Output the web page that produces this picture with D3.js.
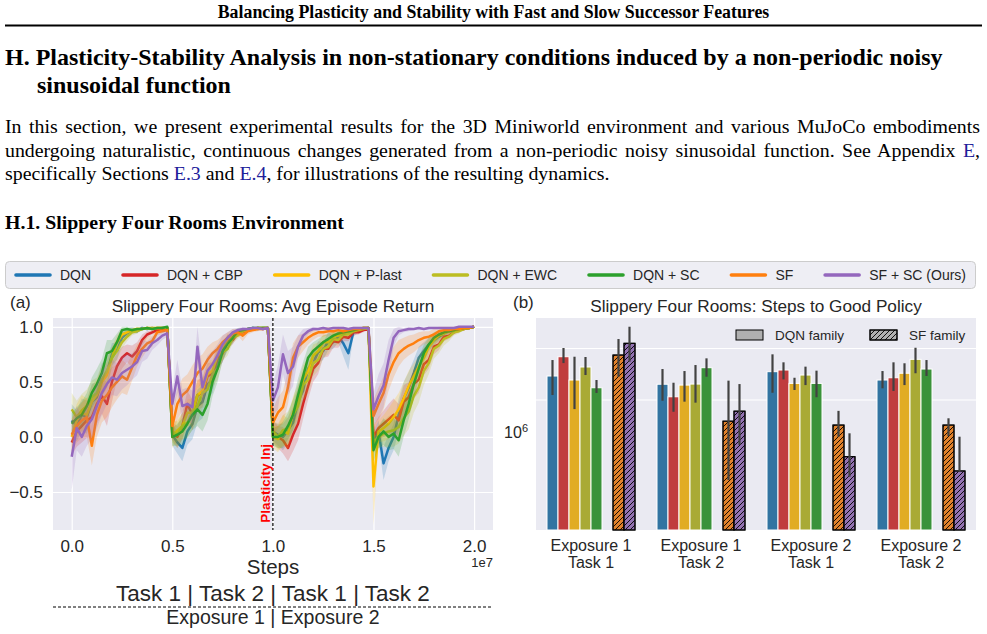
<!DOCTYPE html>
<html>
<head>
<meta charset="utf-8">
<script src="https://cdn.jsdelivr.net/npm/d3@7"></script>
<style>
  body { margin: 0; background: #fff; }
  svg { display: block; }
</style>
</head>
<body>
<div></div>
<script>
const serif = '"Liberation Serif", "Times New Roman", serif';
const sans = '"Liberation Sans", Arial, Helvetica, sans-serif';
const ink = "#262626";

// ---- data: (a) average episode return, x in units of 1e7 steps ----
const methods = ["DQN", "DQN + CBP", "DQN + P-last", "DQN + EWC", "DQN + SC", "SF", "SF + SC (Ours)"];
const steps = [0, 0.025, 0.05, 0.075, 0.1, 0.125, 0.15, 0.175, 0.2, 0.225, 0.25, 0.275, 0.3, 0.325, 0.35, 0.375, 0.4, 0.425, 0.45, 0.475,
  0.5, 0.525, 0.55, 0.575, 0.6, 0.625, 0.65, 0.675, 0.7, 0.725, 0.75, 0.775, 0.8, 0.825, 0.85, 0.875, 0.9, 0.925, 0.95, 0.975,
  1.0, 1.025, 1.05, 1.075, 1.1, 1.125, 1.15, 1.175, 1.2, 1.225, 1.25, 1.275, 1.3, 1.325, 1.35, 1.375, 1.4, 1.425, 1.45, 1.475,
  1.5, 1.525, 1.55, 1.575, 1.6, 1.625, 1.65, 1.675, 1.7, 1.725, 1.75, 1.775, 1.8, 1.825, 1.85, 1.875, 1.9, 1.925, 1.95, 1.975, 2.0];

const retDQN = [0.15, 0.1, 0.2, 0.18, 0.32, 0.36, 0.52, 0.58, 0.75, 0.78, 0.9, 0.94, 0.97, 0.96, 0.99, 0.98, 0.99, 0.98, 0.99, 0.99,
  0.02, -0.05, -0.1, 0.05, 0.12, 0.28, 0.32, 0.48, 0.52, 0.7, 0.76, 0.86, 0.9, 0.95, 0.96, 0.98, 0.99, 0.98, 0.99, 0.99,
  0.05, 0.02, 0.0, 0.06, 0.13, 0.32, 0.42, 0.62, 0.67, 0.77, 0.78, 0.87, 0.86, 0.91, 0.85, 0.76, 0.95, 0.97, 0.98, 0.99,
  -0.05, 0.05, -0.24, -0.1, 0.0, 0.2, 0.35, 0.45, 0.58, 0.72, 0.78, 0.84, 0.88, 0.91, 0.94, 0.96, 0.97, 0.98, 0.99, 0.99, 1.0];
const bandDQN = [0.15, 0.14, 0.15, 0.15, 0.16, 0.14, 0.15, 0.13, 0.1, 0.08, 0.06, 0.04, 0.03, 0.02, 0.01, 0.01, 0.01, 0.01, 0.01, 0.01,
  0.1, 0.1, 0.12, 0.12, 0.14, 0.15, 0.15, 0.14, 0.12, 0.1, 0.08, 0.06, 0.04, 0.03, 0.02, 0.01, 0.01, 0.01, 0.01, 0.01,
  0.08, 0.1, 0.12, 0.12, 0.14, 0.15, 0.15, 0.12, 0.1, 0.1, 0.08, 0.08, 0.06, 0.05, 0.12, 0.15, 0.04, 0.02, 0.01, 0.01,
  0.1, 0.1, 0.15, 0.12, 0.12, 0.15, 0.15, 0.14, 0.12, 0.1, 0.08, 0.06, 0.05, 0.04, 0.03, 0.02, 0.02, 0.01, 0.01, 0.01, 0.01];

const retCBP = [-0.05, 0.05, 0.1, 0.15, 0.18, 0.3, 0.37, 0.3, 0.5, 0.64, 0.72, 0.76, 0.73, 0.78, 0.88, 0.93, 0.95, 0.97, 0.98, 0.99,
  0.05, 0.0, 0.1, 0.3, 0.2, 0.38, 0.4, 0.55, 0.58, 0.72, 0.76, 0.87, 0.88, 0.94, 0.95, 0.97, 0.98, 0.99, 0.98, 0.99,
  0.05, 0.0, -0.03, -0.1, 0.02, 0.12, 0.3, 0.46, 0.62, 0.67, 0.8, 0.8, 0.87, 0.86, 0.91, 0.9, 0.95, 0.95, 0.97, 0.98,
  0.0, 0.08, 0.12, 0.16, 0.2, 0.15, 0.32, 0.36, 0.48, 0.52, 0.66, 0.7, 0.82, 0.84, 0.91, 0.92, 0.95, 0.97, 0.98, 0.99, 1.0];
const bandCBP = [0.12, 0.14, 0.15, 0.16, 0.18, 0.18, 0.16, 0.2, 0.18, 0.12, 0.1, 0.08, 0.1, 0.08, 0.05, 0.03, 0.02, 0.02, 0.01, 0.01,
  0.08, 0.1, 0.12, 0.12, 0.14, 0.14, 0.13, 0.12, 0.1, 0.1, 0.08, 0.06, 0.04, 0.03, 0.02, 0.02, 0.01, 0.01, 0.01, 0.01,
  0.1, 0.1, 0.12, 0.12, 0.15, 0.15, 0.14, 0.12, 0.12, 0.1, 0.08, 0.07, 0.06, 0.05, 0.04, 0.03, 0.03, 0.02, 0.02, 0.01,
  0.1, 0.1, 0.12, 0.14, 0.15, 0.15, 0.15, 0.14, 0.13, 0.12, 0.1, 0.08, 0.07, 0.05, 0.04, 0.03, 0.02, 0.02, 0.01, 0.01, 0.01];

const retPlast = [0.0, 0.15, 0.22, 0.2, 0.32, 0.38, 0.5, 0.56, 0.72, 0.86, 0.93, 0.95, 0.97, 0.98, 0.98, 0.99, 0.99, 0.99, 0.99, 0.99,
  0.0, 0.06, 0.1, 0.22, 0.22, 0.38, 0.42, 0.57, 0.6, 0.74, 0.78, 0.89, 0.9, 0.95, 0.96, 0.98, 0.98, 0.99, 0.99, 0.99,
  0.0, -0.02, 0.06, 0.03, 0.22, 0.33, 0.52, 0.6, 0.74, 0.78, 0.86, 0.86, 0.91, 0.92, 0.95, 0.95, 0.97, 0.98, 0.99, 0.99,
  -0.45, 0.05, 0.08, 0.12, 0.18, 0.25, 0.35, 0.46, 0.55, 0.64, 0.72, 0.82, 0.88, 0.92, 0.94, 0.96, 0.97, 0.98, 0.99, 0.99, 1.0];
const bandPlast = [0.15, 0.15, 0.16, 0.15, 0.15, 0.14, 0.13, 0.12, 0.1, 0.06, 0.05, 0.03, 0.02, 0.02, 0.01, 0.01, 0.01, 0.01, 0.01, 0.01,
  0.1, 0.1, 0.12, 0.12, 0.13, 0.13, 0.12, 0.12, 0.1, 0.09, 0.08, 0.05, 0.04, 0.03, 0.02, 0.01, 0.01, 0.01, 0.01, 0.01,
  0.1, 0.12, 0.14, 0.14, 0.15, 0.15, 0.13, 0.12, 0.1, 0.08, 0.07, 0.06, 0.05, 0.04, 0.03, 0.02, 0.02, 0.01, 0.01, 0.01,
  0.35, 0.1, 0.12, 0.14, 0.15, 0.15, 0.15, 0.14, 0.12, 0.1, 0.09, 0.07, 0.05, 0.04, 0.03, 0.02, 0.02, 0.01, 0.01, 0.01, 0.01];

const retEWC = [0.25, 0.18, 0.24, 0.28, 0.36, 0.4, 0.52, 0.6, 0.72, 0.78, 0.86, 0.91, 0.95, 0.96, 0.98, 0.99, 0.98, 0.99, 0.99, 0.99,
  0.05, 0.02, 0.1, 0.13, 0.22, 0.28, 0.4, 0.43, 0.57, 0.62, 0.77, 0.8, 0.9, 0.92, 0.96, 0.97, 0.98, 0.99, 0.99, 0.99,
  0.05, 0.0, 0.06, 0.08, 0.2, 0.28, 0.47, 0.52, 0.67, 0.7, 0.8, 0.82, 0.89, 0.88, 0.93, 0.93, 0.96, 0.97, 0.98, 0.99,
  -0.05, 0.0, 0.03, 0.05, 0.06, 0.09, 0.17, 0.23, 0.37, 0.45, 0.6, 0.67, 0.8, 0.83, 0.89, 0.91, 0.95, 0.96, 0.98, 0.99, 1.0];
const bandEWC = [0.15, 0.15, 0.15, 0.15, 0.15, 0.14, 0.14, 0.12, 0.1, 0.08, 0.06, 0.04, 0.03, 0.02, 0.01, 0.01, 0.01, 0.01, 0.01, 0.01,
  0.1, 0.12, 0.12, 0.14, 0.15, 0.15, 0.14, 0.14, 0.12, 0.1, 0.08, 0.06, 0.05, 0.03, 0.02, 0.02, 0.01, 0.01, 0.01, 0.01,
  0.1, 0.12, 0.14, 0.15, 0.15, 0.15, 0.14, 0.13, 0.12, 0.1, 0.08, 0.07, 0.06, 0.05, 0.04, 0.03, 0.02, 0.02, 0.01, 0.01,
  0.1, 0.1, 0.12, 0.14, 0.15, 0.15, 0.16, 0.16, 0.15, 0.14, 0.13, 0.1, 0.09, 0.07, 0.06, 0.04, 0.03, 0.02, 0.01, 0.01, 0.01];

const retSC = [0.12, 0.17, 0.2, 0.28, 0.4, 0.48, 0.58, 0.76, 0.78, 0.86, 0.97, 0.98, 0.97, 0.98, 0.98, 0.99, 0.98, 0.99, 0.99, 1.0,
  0.0, 0.02, 0.05, 0.12, 0.2, 0.25, 0.2, 0.3, 0.5, 0.62, 0.78, 0.85, 0.9, 0.96, 0.97, 0.98, 0.99, 0.99, 0.99, 0.99,
  0.0, 0.0, 0.02, 0.1, 0.2, 0.38, 0.55, 0.72, 0.78, 0.82, 0.86, 0.89, 0.92, 0.94, 0.95, 0.96, 0.97, 0.98, 0.99, 0.99,
  -0.12, 0.0, 0.05, 0.0, 0.03, -0.03, 0.15, 0.3, 0.48, 0.62, 0.76, 0.84, 0.9, 0.93, 0.95, 0.96, 0.97, 0.98, 0.99, 0.99, 1.0];
const bandSC = [0.1, 0.1, 0.12, 0.12, 0.14, 0.14, 0.13, 0.12, 0.1, 0.08, 0.03, 0.02, 0.02, 0.01, 0.01, 0.01, 0.01, 0.01, 0.01, 0.01,
  0.08, 0.1, 0.12, 0.12, 0.14, 0.15, 0.15, 0.15, 0.13, 0.12, 0.09, 0.07, 0.05, 0.03, 0.02, 0.01, 0.01, 0.01, 0.01, 0.01,
  0.08, 0.1, 0.12, 0.12, 0.14, 0.15, 0.13, 0.1, 0.08, 0.07, 0.06, 0.05, 0.04, 0.03, 0.03, 0.02, 0.02, 0.01, 0.01, 0.01,
  0.1, 0.1, 0.12, 0.12, 0.14, 0.15, 0.15, 0.14, 0.13, 0.1, 0.08, 0.06, 0.05, 0.04, 0.03, 0.02, 0.02, 0.01, 0.01, 0.01, 0.01];

const retSF = [0.02, 0.1, 0.15, 0.18, -0.08, 0.2, 0.33, 0.38, 0.45, 0.5, 0.55, 0.52, 0.63, 0.74, 0.8, 0.85, 0.87, 0.95, 0.96, 0.97,
  0.1, 0.3, 0.38, 0.42, 0.5, 0.58, 0.62, 0.7, 0.76, 0.8, 0.86, 0.9, 0.94, 0.95, 0.92, 0.96, 0.97, 0.98, 0.98, 0.99,
  0.13, 0.22, 0.27, 0.45, 0.72, 0.82, 0.86, 0.9, 0.93, 0.95, 0.95, 0.96, 0.96, 0.97, 0.96, 0.97, 0.98, 0.98, 0.99, 0.99,
  0.19, 0.3, 0.4, 0.57, 0.68, 0.76, 0.8, 0.83, 0.85, 0.88, 0.9, 0.91, 0.93, 0.96, 0.97, 0.97, 0.98, 0.98, 0.99, 0.99, 1.0];
const bandSF = [0.15, 0.15, 0.16, 0.18, 0.18, 0.2, 0.2, 0.2, 0.18, 0.16, 0.15, 0.14, 0.12, 0.1, 0.08, 0.06, 0.05, 0.03, 0.02, 0.02,
  0.12, 0.14, 0.15, 0.15, 0.15, 0.14, 0.13, 0.12, 0.1, 0.08, 0.06, 0.05, 0.04, 0.03, 0.05, 0.03, 0.02, 0.02, 0.01, 0.01,
  0.12, 0.14, 0.15, 0.15, 0.13, 0.1, 0.08, 0.06, 0.05, 0.04, 0.04, 0.04, 0.03, 0.03, 0.03, 0.02, 0.02, 0.02, 0.01, 0.01,
  0.15, 0.15, 0.15, 0.15, 0.14, 0.12, 0.1, 0.09, 0.08, 0.07, 0.06, 0.05, 0.05, 0.04, 0.03, 0.03, 0.02, 0.02, 0.01, 0.01, 0.01];

const retSFSC = [-0.18, 0.08, 0.0, 0.1, 0.16, 0.28, 0.4, 0.48, 0.54, 0.52, 0.58, 0.61, 0.64, 0.68, 0.78, 0.79, 0.85, 0.88, 0.92, 0.94,
  0.3, 0.55, 0.28, 0.3, 0.27, 0.82, 0.45, 0.6, 0.66, 0.74, 0.84, 0.9, 0.95, 0.97, 0.98, 0.98, 0.99, 0.99, 0.98, 0.99,
  0.33, 0.45, 0.75, 0.58, 0.64, 0.82, 0.92, 0.96, 0.98, 0.98, 0.99, 0.98, 0.99, 0.99, 0.99, 0.98, 0.99, 0.99, 0.99, 0.99,
  0.25, 0.37, 0.47, 0.7, 0.9, 0.96, 0.97, 0.98, 0.98, 0.99, 0.98, 0.99, 0.99, 0.99, 0.99, 0.99, 0.99, 1.0, 1.0, 1.0, 1.0];
const bandSFSC = [0.3, 0.2, 0.18, 0.18, 0.18, 0.2, 0.2, 0.18, 0.16, 0.15, 0.15, 0.14, 0.12, 0.12, 0.1, 0.08, 0.06, 0.05, 0.04, 0.03,
  0.12, 0.15, 0.15, 0.15, 0.15, 0.18, 0.16, 0.14, 0.12, 0.1, 0.08, 0.05, 0.03, 0.02, 0.02, 0.01, 0.01, 0.01, 0.01, 0.01,
  0.15, 0.2, 0.18, 0.2, 0.18, 0.1, 0.06, 0.03, 0.02, 0.01, 0.01, 0.01, 0.01, 0.01, 0.01, 0.01, 0.01, 0.01, 0.01, 0.01,
  0.15, 0.2, 0.2, 0.18, 0.08, 0.04, 0.02, 0.02, 0.01, 0.01, 0.01, 0.01, 0.01, 0.01, 0.01, 0.01, 0.01, 0.01, 0.01, 0.01, 0.01];

const xTicksA = [0, 0.5, 1.0, 1.5, 2.0];
const yTicksA = [-0.5, 0, 0.5, 1.0];

// ---- data: (b) steps to good policy ----
const barGroups = ["Exposure 1\nTask 1", "Exposure 1\nTask 2", "Exposure 2\nTask 1", "Exposure 2\nTask 2"];
const stepsDQN = [3.30e6, 2.77e6, 3.62e6, 3.03e6];
const loDQN = [2.20e6, 1.95e6, 2.31e6, 2.54e6];
const hiDQN = [4.64e6, 3.83e6, 5.24e6, 3.67e6];
const stepsCBP = [4.98e6, 2.12e6, 3.75e6, 3.18e6];
const loCBP = [4.35e6, 1.54e6, 3.07e6, 2.40e6];
const hiCBP = [6.0e6, 2.86e6, 4.42e6, 4.42e6];
const stepsPlast = [3.03e6, 2.72e6, 2.82e6, 3.50e6];
const loPlast = [1.63e6, 1.91e6, 2.45e6, 2.72e6];
const hiPlast = [4.98e6, 3.67e6, 3.18e6, 4.33e6];
const stepsEWC = [4.0e6, 2.78e6, 3.37e6, 4.71e6];
const loEWC = [3.37e6, 1.87e6, 2.72e6, 3.50e6];
const hiEWC = [4.95e6, 4.17e6, 4.03e6, 6.03e6];
const stepsSC = [2.57e6, 3.94e6, 2.82e6, 3.83e6];
const loSC = [2.30e6, 3.25e6, 2.10e6, 3.30e6];
const hiSC = [3.03e6, 4.81e6, 3.70e6, 4.64e6];
const stepsSF = [5.16e6, 1.26e6, 1.16e6, 1.16e6];
const loSF = [3.25e6, 3.59e5, 9.05e5, 9.18e5];
const hiSF = [7.26e6, 2.99e6, 1.57e6, 1.34e6];
const stepsSFSC = [6.63e6, 1.56e6, 5.91e5, 4.36e5];
const loSFSC = [4.48e6, 7.58e5, 3.86e5, 4.26e5];
const hiSFSC = [9.44e6, 2.78e6, 9.73e5, 9.05e5];
const barGrid = [2e6, 6e6];

const lineColors = ["#1f77b4", "#d62728", "#ffbf00", "#bcbd22", "#2ca02c", "#ff7f0e", "#9467bd"];
const barColors = ["#3274a1", "#c03d3e", "#e1ac24", "#a9aa35", "#3a923a", "#e1812c", "#9372b2"];

const lineSeries = [
  [retDQN, bandDQN], [retCBP, bandCBP], [retPlast, bandPlast], [retEWC, bandEWC],
  [retSC, bandSC], [retSF, bandSF], [retSFSC, bandSFSC]
].map(([m, b], i) => ({
  name: methods[i], color: lineColors[i],
  pts: steps.map((t, j) => ({ t: t, v: m[j], lo: m[j] - b[j], hi: m[j] + b[j] }))
}));
const barSeries = [
  [stepsDQN, loDQN, hiDQN], [stepsCBP, loCBP, hiCBP], [stepsPlast, loPlast, hiPlast], [stepsEWC, loEWC, hiEWC],
  [stepsSC, loSC, hiSC], [stepsSF, loSF, hiSF], [stepsSFSC, loSFSC, hiSFSC]
].map(([v, lo, hi], i) => ({ name: methods[i], color: barColors[i], hatch: i >= 5, v: v, lo: lo, hi: hi }));

const w = 987;
const h = 634;
const svg = d3.select("div").append("svg").attr("width", w).attr("height", h);
const defs = svg.append("defs");
defs.append("pattern").attr("id", "hatch").attr("patternUnits", "userSpaceOnUse")
  .attr("width", 5).attr("height", 5)
  .append("path").attr("d", "M0,5 L5,0 M-1,1 L1,-1 M4,6 L6,4")
  .attr("stroke", "#000").attr("stroke-width", 0.9);

// ---- page text ----
function fitWidth(sel, target) {
  const len = sel.node().getComputedTextLength();
  sel.attr("font-size", +sel.attr("font-size") * target / len);
}
function justify(sel, target) {
  const len = sel.node().getComputedTextLength();
  const spaces = sel.text().split(" ").length - 1;
  sel.attr("word-spacing", (target - len) / spaces);
}

const header = svg.append("text").attr("x", 493.5).attr("y", 18).attr("text-anchor", "middle")
  .attr("font-family", serif).attr("font-weight", "bold").attr("font-size", 15)
  .text("Balancing Plasticity and Stability with Fast and Slow Successor Features");
fitWidth(header, 552);
svg.append("line").attr("x1", 5).attr("x2", 982).attr("y1", 25.5).attr("y2", 25.5)
  .attr("stroke", "#000").attr("stroke-width", 2);

const h1a = svg.append("text").attr("x", 5).attr("y", 65)
  .attr("font-family", serif).attr("font-weight", "bold").attr("font-size", 22)
  .text("H. Plasticity-Stability Analysis in non-stationary conditions induced by a non-periodic noisy");
fitWidth(h1a, 938);
svg.append("text").attr("x", 37).attr("y", 93)
  .attr("font-family", serif).attr("font-weight", "bold").attr("font-size", h1a.attr("font-size"))
  .text("sinusoidal function");

const link = "#20209a";
const p1 = svg.append("text").attr("x", 5).attr("y", 133).attr("font-family", serif).attr("font-size", 17)
  .text("In this section, we present experimental results for the 3D Miniworld environment and various MuJoCo embodiments");
const p2 = svg.append("text").attr("x", 5).attr("y", 157).attr("font-family", serif).attr("font-size", 17);
p2.append("tspan").text("undergoing naturalistic, continuous changes generated from a non-periodic noisy sinusoidal function. See Appendix ");
p2.append("tspan").attr("fill", link).text("E");
p2.append("tspan").text(",");
const p3 = svg.append("text").attr("x", 5).attr("y", 180).attr("font-family", serif).attr("font-size", 17);
p3.append("tspan").text("specifically Sections ");
p3.append("tspan").attr("fill", link).text("E.3");
p3.append("tspan").text(" and ");
p3.append("tspan").attr("fill", link).text("E.4");
p3.append("tspan").text(", for illustrations of the resulting dynamics.");
fitWidth(p3, 605);
p1.attr("font-size", p3.attr("font-size"));
p2.attr("font-size", p3.attr("font-size"));
justify(p1, 975);
justify(p2, 975);

const h2 = svg.append("text").attr("x", 5).attr("y", 229)
  .attr("font-family", serif).attr("font-weight", "bold").attr("font-size", 17)
  .text("H.1. Slippery Four Rooms Environment");
fitWidth(h2, 339);

// ---- shared legend ----
const legend = svg.append("g");
legend.append("rect").attr("x", 5.5).attr("y", 261.5).attr("width", 970).attr("height", 27).attr("rx", 4)
  .attr("fill", "#eeeef4").attr("stroke", "#cccccc");
const items = legend.selectAll("g.item").data(lineSeries).join("g").attr("class", "item");
items.append("line").attr("x1", 0).attr("x2", 34).attr("stroke", (d) => d.color)
  .attr("stroke-width", 3.6).attr("stroke-linecap", "round");
items.append("text").attr("x", 44).attr("dy", "0.35em").attr("font-family", sans).attr("font-size", 14)
  .attr("fill", ink).text((d) => d.name);
const tw = items.nodes().map((n) => d3.select(n).select("text").node().getComputedTextLength());
const gapL = (966 - 16 - d3.sum(tw) - methods.length * 44) / (methods.length - 1);
let lx = 16;
items.each(function (d, i) {
  d3.select(this).attr("transform", "translate(" + lx + ",275)");
  lx += 44 + tw[i] + gapL;
});

// ---- (a) line chart ----
const A = { left: 53, right: 493, top: 318, bottom: 530 };
const xLine = d3.scaleLinear().domain([-0.093, 2.094]).range([A.left, A.right]);
const yLine = d3.scaleLinear().domain([-0.845, 1.08]).range([A.bottom, A.top]);

svg.append("rect").attr("x", A.left).attr("y", A.top).attr("width", A.right - A.left)
  .attr("height", A.bottom - A.top).attr("fill", "#eaeaf2");
defs.append("clipPath").attr("id", "clipA").append("rect").attr("x", A.left).attr("y", A.top)
  .attr("width", A.right - A.left).attr("height", A.bottom - A.top);

const gxA = svg.append("g").attr("transform", "translate(0," + A.bottom + ")")
  .call(d3.axisBottom(xLine).tickValues(xTicksA).tickSize(-(A.bottom - A.top)).tickPadding(10).tickFormat(d3.format(".1f")));
const gyA = svg.append("g").attr("transform", "translate(" + A.left + ",0)")
  .call(d3.axisLeft(yLine).tickValues(yTicksA).tickSize(-(A.right - A.left)).tickPadding(10).tickFormat(d3.format(".1f")));
[gxA, gyA].forEach((g) => {
  g.select(".domain").remove();
  g.selectAll(".tick line").attr("stroke", "#fff").attr("stroke-width", 1.2);
  g.selectAll(".tick text").attr("font-family", sans).attr("font-size", 17).attr("fill", ink);
});

const plotA = svg.append("g").attr("clip-path", "url(#clipA)");
const area = d3.area().x((d) => xLine(d.t)).y0((d) => yLine(d.lo)).y1((d) => yLine(d.hi));
const line = d3.line().x((d) => xLine(d.t)).y((d) => yLine(d.v));
lineSeries.forEach((s) => {
  plotA.append("path").attr("d", area(s.pts)).attr("fill", s.color).attr("fill-opacity", 0.2);
  plotA.append("path").attr("d", line(s.pts)).attr("fill", "none").attr("stroke", s.color)
    .attr("stroke-width", 2.5).attr("stroke-linejoin", "round");
});

plotA.append("line").attr("x1", xLine(1.0)).attr("x2", xLine(1.0)).attr("y1", A.top).attr("y2", A.bottom)
  .attr("stroke", "#000").attr("stroke-width", 1.2).attr("stroke-dasharray", "3,2");
svg.append("text")
  .attr("transform", "translate(" + (xLine(1.0) - 2.5) + "," + yLine(-0.78) + ") rotate(-90)")
  .attr("font-family", sans).attr("font-weight", "bold").attr("font-size", 13.5).attr("fill", "#ff0000")
  .text("Plasticity Inj");

svg.append("text").attr("x", 10).attr("y", 308).attr("font-family", sans).attr("font-size", 17).attr("fill", ink).text("(a)");
svg.append("text").attr("x", (A.left + A.right) / 2).attr("y", 312).attr("text-anchor", "middle")
  .attr("font-family", sans).attr("font-size", 17.2).attr("fill", ink)
  .text("Slippery Four Rooms: Avg Episode Return");
svg.append("text").attr("x", (A.left + A.right) / 2).attr("y", 574).attr("text-anchor", "middle")
  .attr("font-family", sans).attr("font-size", 20.5).attr("fill", ink).text("Steps");
svg.append("text").attr("x", A.right).attr("y", 567).attr("text-anchor", "end")
  .attr("font-family", sans).attr("font-size", 13).attr("fill", ink).text("1e7");
svg.append("text").attr("x", xLine(1.0)).attr("y", 601).attr("text-anchor", "middle")
  .attr("font-family", sans).attr("font-size", 22.5).attr("fill", ink)
  .text("Task 1 | Task 2 | Task 1 | Task 2");
svg.append("line").attr("x1", A.left).attr("x2", A.right).attr("y1", 607).attr("y2", 607)
  .attr("stroke", "#000").attr("stroke-width", 1).attr("stroke-dasharray", "3,2");
svg.append("text").attr("x", xLine(1.0)).attr("y", 624).attr("text-anchor", "middle")
  .attr("font-family", sans).attr("font-size", 19.5).attr("fill", ink)
  .text("Exposure 1 | Exposure 2");

// ---- (b) bar chart ----
const B = { left: 536, right: 976, top: 318, bottom: 530 };
const xGroup = d3.scaleBand().domain(barGroups).range([B.left, B.right]).paddingInner(0.2).paddingOuter(0.1);
const slots = methods.slice(0, 5).concat(["gap"], methods.slice(5));
const xSlot = d3.scaleBand().domain(slots).range([0, xGroup.bandwidth()]);
const yBar = d3.scaleLog().domain([1.238e5, 1.137e7]).range([B.bottom, B.top]);

svg.append("rect").attr("x", B.left).attr("y", B.top).attr("width", B.right - B.left)
  .attr("height", B.bottom - B.top).attr("fill", "#eaeaf2");
const gGrid = svg.append("g").attr("transform", "translate(" + B.left + ",0)")
  .call(d3.axisLeft(yBar).tickValues(barGrid).tickSize(-(B.right - B.left)).tickFormat(""));
gGrid.select(".domain").remove();
gGrid.selectAll(".tick line").attr("stroke", "#fff").attr("stroke-width", 1.2);

const gyB = svg.append("g").attr("transform", "translate(" + B.left + ",0)")
  .call(d3.axisLeft(yBar).tickValues([1e6]).tickSize(0).tickPadding(8).tickFormat(() => "10"));
gyB.select(".domain").remove();
gyB.selectAll(".tick text").attr("font-family", sans).attr("font-size", 16).attr("fill", ink)
  .append("tspan").attr("dy", "-0.5em").attr("font-size", 11).text("6");

const gxB = svg.append("g").attr("transform", "translate(0," + B.bottom + ")")
  .call(d3.axisBottom(xGroup).tickSize(0).tickPadding(10));
gxB.select(".domain").remove();
gxB.selectAll(".tick text").attr("font-family", sans).attr("font-size", 16).attr("fill", ink)
  .text(null).selectAll("tspan").data((d) => d.split("\n")).join("tspan")
  .attr("x", 0).attr("dy", (d, i) => (i ? "1.05em" : null)).text((d) => d);

const barW = xSlot.bandwidth();
barSeries.forEach((s) => {
  const g = svg.append("g");
  const rows = barGroups.map((grp, j) => ({ x: xGroup(grp) + xSlot(s.name), v: s.v[j], lo: s.lo[j], hi: s.hi[j] }));
  g.selectAll("rect.bar").data(rows).join("rect").attr("class", "bar")
    .attr("x", (d) => d.x).attr("width", barW)
    .attr("y", (d) => yBar(d.v)).attr("height", (d) => B.bottom - yBar(d.v))
    .attr("fill", s.color).attr("stroke", s.hatch ? "#000" : "#fff").attr("stroke-width", 1);
  if (s.hatch) {
    g.selectAll("rect.hatch").data(rows).join("rect").attr("class", "hatch")
      .attr("x", (d) => d.x).attr("width", barW)
      .attr("y", (d) => yBar(d.v)).attr("height", (d) => B.bottom - yBar(d.v))
      .attr("fill", "url(#hatch)").attr("stroke", "#000").attr("stroke-width", 1);
  }
  g.selectAll("line.err").data(rows).join("line").attr("class", "err")
    .attr("x1", (d) => d.x + barW / 2).attr("x2", (d) => d.x + barW / 2)
    .attr("y1", (d) => yBar(d.lo)).attr("y2", (d) => yBar(d.hi))
    .attr("stroke", "#424242").attr("stroke-width", 2.2);
});

const famLegend = [{ label: "DQN family", x: 736, hatch: false }, { label: "SF family", x: 870, hatch: true }];
const fl = svg.selectAll("g.fam").data(famLegend).join("g").attr("class", "fam")
  .attr("transform", (d) => "translate(" + d.x + ",330)");
fl.append("rect").attr("width", 27).attr("height", 10).attr("fill", "#b0b0b0").attr("stroke", "#000");
fl.filter((d) => d.hatch).append("rect").attr("width", 27).attr("height", 10)
  .attr("fill", "url(#hatch)").attr("stroke", "#000");
fl.append("text").attr("x", 39).attr("y", 5).attr("dy", "0.35em").attr("font-family", sans)
  .attr("font-size", 13.5).attr("fill", ink).text((d) => d.label);

svg.append("text").attr("x", 513).attr("y", 308).attr("font-family", sans).attr("font-size", 17).attr("fill", ink).text("(b)");
svg.append("text").attr("x", (B.left + B.right) / 2).attr("y", 312).attr("text-anchor", "middle")
  .attr("font-family", sans).attr("font-size", 17.2).attr("fill", ink)
  .text("Slippery Four Rooms: Steps to Good Policy");
</script>
</body>
</html>
